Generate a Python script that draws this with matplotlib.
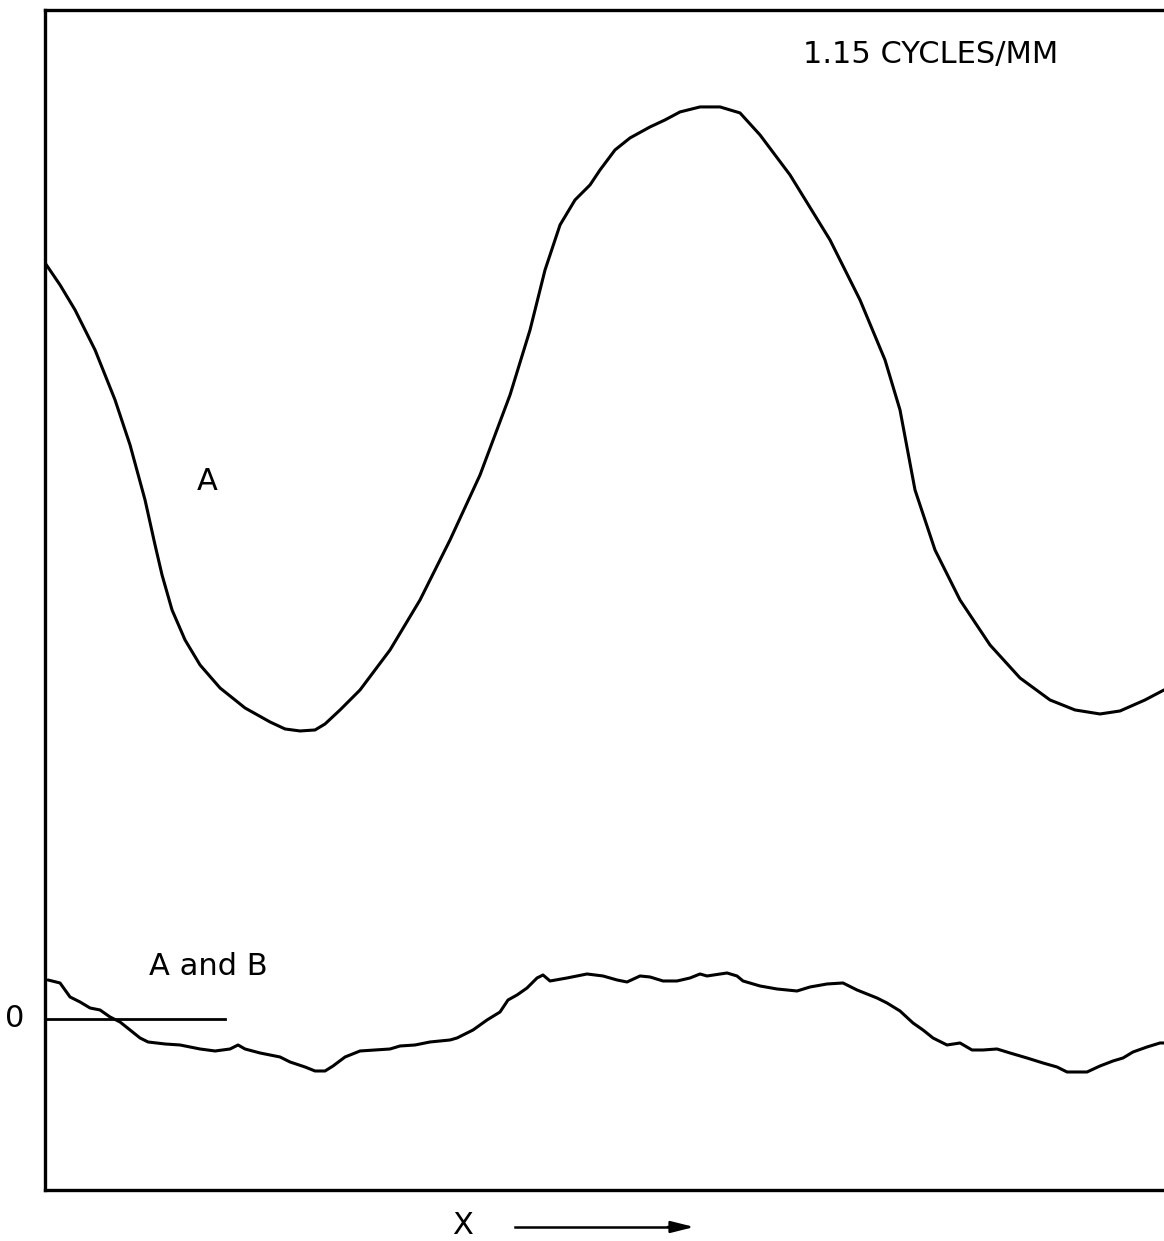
import matplotlib
matplotlib.use("Agg")
import matplotlib.pyplot as plt

plt.rcParams['font.family'] = ['Liberation Sans Narrow', 'DejaVu Sans']

# position along X (arbitrary units) and signal level
A_X = [0.00, 0.15, 0.30, 0.50, 0.70, 0.85, 1.00, 1.10, 1.17, 1.27, 1.40, 1.55, 1.75,
       2.00, 2.25, 2.40, 2.55, 2.70, 2.80, 2.95, 3.15, 3.45, 3.75, 4.05, 4.35, 4.65,
       4.85, 5.00, 5.15, 5.30, 5.45, 5.55, 5.70, 5.85, 6.05, 6.20, 6.35, 6.55, 6.75,
       6.95, 7.15, 7.45, 7.85, 8.15, 8.40, 8.55, 8.70, 8.90, 9.15, 9.45, 9.75, 10.05,
       10.30, 10.55, 10.75, 11.00, 11.19]
A_Y = [7.56, 7.34, 7.09, 6.69, 6.19, 5.74, 5.19, 4.74, 4.44, 4.09, 3.79, 3.54, 3.31,
       3.11, 2.97, 2.90, 2.88, 2.89, 2.95, 3.09, 3.29, 3.69, 4.19, 4.79, 5.44, 6.24,
       6.89, 7.49, 7.94, 8.19, 8.34, 8.49, 8.69, 8.81, 8.92, 8.99, 9.07, 9.12, 9.12,
       9.06, 8.84, 8.44, 7.79, 7.19, 6.59, 6.09, 5.29, 4.69, 4.19, 3.74, 3.41, 3.19,
       3.09, 3.05, 3.08, 3.19, 3.29]

AB_X = [0.03, 0.15, 0.25, 0.35, 0.45, 0.55, 0.65, 0.75, 0.85, 0.95, 1.03, 1.20, 1.35,
        1.55, 1.70, 1.85, 1.93, 2.00, 2.15, 2.35, 2.45, 2.60, 2.70, 2.80, 2.88, 3.00,
        3.15, 3.30, 3.45, 3.55, 3.70, 3.85, 4.05, 4.12, 4.28, 4.42, 4.55, 4.63, 4.72,
        4.82, 4.92, 4.98, 5.05, 5.22, 5.42, 5.58, 5.72, 5.82, 5.95, 6.05, 6.18, 6.32,
        6.45, 6.55, 6.62, 6.82, 6.92, 6.98, 7.15, 7.32, 7.52, 7.65, 7.82, 7.98, 8.12,
        8.32, 8.42, 8.55, 8.68, 8.78, 8.88, 9.02, 9.15, 9.27, 9.38, 9.52, 9.65, 9.82,
        9.98, 10.12, 10.22, 10.42, 10.55, 10.68, 10.78, 10.88, 11.02, 11.15, 11.19]
AB_Y = [0.39, 0.36, 0.22, 0.17, 0.11, 0.09, 0.02, -0.03, -0.11, -0.19, -0.23, -0.25,
        -0.26, -0.30, -0.32, -0.30, -0.26, -0.30, -0.34, -0.38, -0.43, -0.48, -0.52,
        -0.52, -0.47, -0.38, -0.32, -0.31, -0.30, -0.27, -0.26, -0.23, -0.21, -0.19,
        -0.11, -0.01, 0.07, 0.19, 0.24, 0.31, 0.41, 0.44, 0.38, 0.41, 0.45, 0.43, 0.39,
        0.37, 0.43, 0.42, 0.38, 0.38, 0.41, 0.45, 0.43, 0.46, 0.43, 0.38, 0.33, 0.30,
        0.28, 0.32, 0.35, 0.36, 0.29, 0.21, 0.16, 0.08, -0.04, -0.11, -0.19, -0.26,
        -0.24, -0.31, -0.31, -0.30, -0.34, -0.39, -0.44, -0.48, -0.53, -0.53, -0.47,
        -0.42, -0.39, -0.33, -0.28, -0.24, -0.24]

ZERO_X = [0.0, 1.80]

fig = plt.figure(figsize=(11.64, 12.41), dpi=100)
ax = fig.add_axes([0.0387, 0.0411, 0.9613, 0.9509])

ax.plot(A_X, A_Y, color='black', linewidth=2.2, solid_capstyle='round')
ax.plot(AB_X, AB_Y, color='black', linewidth=2.2, solid_capstyle='round')
ax.plot(ZERO_X, [0, 0], color='black', linewidth=2.0)

ax.set_xlim(0, 11.19)
ax.set_ylim(-1.71, 10.09)
ax.set_xticks([])
ax.set_yticks([])
ax.spines['right'].set_visible(False)
for s in ['left', 'top', 'bottom']:
    ax.spines[s].set_linewidth(2.4)

ax.text(-0.30, 0, '0', fontsize=22, ha='center', va='center', clip_on=False)
ax.text(1.62, 5.37, 'A', fontsize=22, ha='center', va='center')
ax.text(1.63, 0.52, 'A and B', fontsize=22, ha='center', va='center')
ax.text(8.86, 9.64, '1.15 CYCLES/MM', fontsize=22, ha='center', va='center')

fig.text(463 / 1164, 1 - 1226 / 1241, 'X', fontsize=22, ha='center', va='center')
fig.add_artist(plt.Line2D([515 / 1164, 668 / 1164], [1 - 1227 / 1241] * 2,
                          color='black', linewidth=1.8))
ax.annotate('', xy=(697 / 1164, 1 - 1227 / 1241), xytext=(665 / 1164, 1 - 1227 / 1241),
            xycoords='figure fraction', textcoords='figure fraction',
            arrowprops=dict(arrowstyle='-|>,head_length=1.4,head_width=0.35',
                            color='black', linewidth=1.8))

fig.savefig('out.png', dpi=100, facecolor='white')
